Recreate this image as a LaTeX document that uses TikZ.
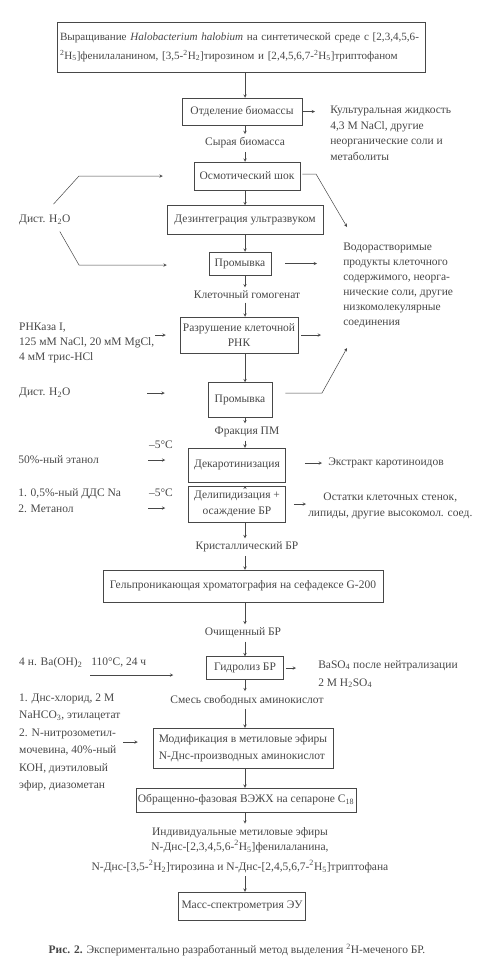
\documentclass[tikz,border=0pt]{standalone}
\usepackage{fontspec}
\setmainfont{Liberation Serif}
\usetikzlibrary{positioning}

\newcommand{\isoH}[1]{\textsuperscript{2}H\textsubscript{#1}}

\begin{document}
\begin{tikzpicture}[%
    >=stealth,
    x=1pt, y=-1pt,
    on grid,
    color=black!72,
    line width=0.5pt,
    every node/.style={font=\fontsize{11.5}{15}\selectfont},
    box/.style 2 args={draw, minimum width=#1, minimum height=#2, inner sep=2pt, align=center},
    note/.style={inner sep=1pt, align=left},
    feed/.style={->, shorten >=#1}
  ]
    \useasboundingbox (0,0) rectangle (480,980);
    \coordinate (spine) at (245,0);

    % main column
    \node[box={368pt}{50pt}, text width=362pt, inner sep=3pt, align=left,
          font=\fontsize{11.1}{19}\selectfont] (grow) at (241,47)
      {Выращивание \textit{Halobacterium halobium} на синтетической среде с~[2,3,4,5,6-\\
       \isoH{5}]фенилаланином, [3,5-\isoH{2}]тирозином и [2,4,5,6,7-\isoH{5}]триптофаном};
    \node[box={120pt}{27pt}] (bio) [below=64.5pt of grow, xshift=1pt] {Отделение биомассы};
    \node (raw) [below=31.5pt of bio, xshift=3pt] {Сырая биомасса};
    \node[box={106pt}{28pt}] (osm) [below=33pt of raw, xshift=2pt] {Осмотический шок};
    \node[box={156pt}{29pt}] (dis) [below=44pt of osm, xshift=-2pt] {Дезинтеграция ультразвуком};
    \node[box={62pt}{23pt}] (wash1) [below=43.5pt of dis, xshift=-5pt] {Промывка};
    \node (hom) [below=31.5pt of wash1, xshift=7pt] {Клеточный гомогенат};
    \node[box={118pt}{36pt}] (rna) [below=40pt of hom, xshift=-8pt] {Разрушение клеточной\\РНК};
    \node[box={64pt}{35pt}] (wash2) [below=65pt of rna, xshift=1pt] {Промывка};
    \node (frac) [below=32pt of wash2, xshift=7pt] {Фракция ПМ};
    \node[box={97pt}{34pt}] (decar) [below=33pt of frac, xshift=-10pt] {Декаротинизация};
    \node[box={97pt}{36pt}, font=\fontsize{11.5}{16}\selectfont] (delip) [below=39pt of decar]
      {Делипидизация +\\осаждение БР};
    \node (cryst) [below=43pt of delip, xshift=10pt] {Кристаллический БР};
    \node[box={280pt}{32pt}] (gel) [below=39pt of cryst, xshift=-4pt]
      {Гельпроникающая хроматография на сефадексе G-200};
    \node (pure) [below=47pt of gel] {Очищенный БР};
    \node[box={77pt}{23pt}] (hydro) [below=35pt of pure, xshift=2pt] {Гидролиз БР};
    \node (mix) [below=32pt of hydro, xshift=2pt] {Смесь свободных аминокислот};
    \node[box={180pt}{40pt}, align=left, font=\fontsize{11.5}{17}\selectfont] (mod) [below=48pt of mix, xshift=-4pt]
      {Модификация в метиловые эфиры\\N-Днс-производных аминокислот};
    \node[box={219pt}{24pt}] (hplc) [below=52pt of mod, xshift=3pt]
      {Обращенно-фазовая ВЭЖХ на сепароне C\textsubscript{18}};
    \node[align=center] (ind) [below=50pt of hplc, xshift=-6pt]
      {Индивидуальные метиловые эфиры\\N-Днс-[2,3,4,5,6-\isoH{5}]фенилаланина,\\[5pt]
       N-Днс-[3,5-\isoH{2}]тирозина и N-Днс-[2,4,5,6,7-\isoH{5}]триптофана};
    \node[box={127pt}{28pt}] (ms) [below=56pt of ind, xshift=2pt] {Масс-спектрометрия ЭУ};
    \node (caption) [below=44pt of ms, xshift=-5pt]
      {\textbf{Рис. 2.} Экспериментально разработанный метод выделения \textsuperscript{2}H-меченого БР.};

    % side notes, right
    \node[note, anchor=west, font=\fontsize{11.5}{15.5}\selectfont] (cult) at (329,133.5)
      {Культуральная жидкость\\4,3 М NaCl, другие\\неорганические соли и\\метаболиты};
    \node[note, anchor=west] (water) at (342,285.5)
      {Водорастворимые\\продукты клеточного\\содержимого, неорга-\\нические соли, другие\\низкомолекулярные\\соединения};
    \node[note, anchor=west] (carot) at (327,463) {Экстракт каротиноидов};
    \node[note, align=center, anchor=west, font=\fontsize{11.5}{16}\selectfont] (rest) at (307,506)
      {Остатки клеточных стенок,\\липиды, другие высокомол. соед.};
    \node[note, anchor=west, font=\fontsize{11.5}{18}\selectfont] (baso) at (317,674)
      {BaSO\textsubscript{4} после нейтрализации\\2 М H\textsubscript{2}SO\textsubscript{4}};

    % side notes, left
    \node[note, anchor=west] (h2o1) at (18,220) {Дист. H\textsubscript{2}O};
    \node[note, anchor=west] (rnase) at (18,343) {РНКаза I,\\125 мМ NaCl, 20 мМ MgCl,\\4 мМ трис-HCl};
    \node[note, anchor=west] (h2o2) at (18,393) {Дист. H\textsubscript{2}O};
    \node[note] (cold1) at (161,445) {–5°C};
    \node[note, anchor=west] (eth) at (17,460) {50\%-ный этанол};
    \node[note] (cold2) at (161,493) {–5°C};
    \node[note, anchor=west, font=\fontsize{11.5}{16}\selectfont] (dds) at (17,501)
      {1. 0,5\%-ный ДДС Na\\2. Метанол};
    \node[note, anchor=west] (baoh) at (18,663) {4 н. Ba(OH)\textsubscript{2}};
    \node[note, anchor=west] (temp) at (90,663) {110°C, 24 ч};
    \node[note, anchor=west, font=\fontsize{11.5}{17.4}\selectfont] (dns) at (18,742.5)
      {1. Днс-хлорид, 2 М\\NaHCO\textsubscript{3}, этилацетат\\2. N-нитрозометил-\\мочевина, 40\%-ный\\КОН, диэтиловый\\эфир, диазометан};

    \coordinate (k1) at (79,176);
    \coordinate (k2) at (79,265);
    \coordinate (k3) at (316,174);
    \coordinate (k4) at (347,227);
    \coordinate (k5) at (322,393);
    \coordinate (k6) at (347,348);
    \coordinate (f2) at (147,393);
    \coordinate (f3) at (148,460);
    \coordinate (f4) at (148,508);
    \coordinate (f5) at (90,675);
    \coordinate (f6) at (123,742);

    % main flow
    \draw[->] (grow.south -| spine) -- (bio.north -| spine);
    \draw[->] (bio.south -| spine) -- (raw.north -| spine);
    \draw[->] (raw.south -| spine) -- (osm.north -| spine);
    \draw[->] (osm.south -| spine) -- (dis.north -| spine);
    \draw[->] (dis.south -| spine) -- (wash1.north -| spine);
    \draw[->] (wash1.south -| spine) -- (hom.north -| spine);
    \draw[->] (hom.south -| spine) -- (rna.north -| spine);
    \draw[->] (rna.south -| spine) -- (wash2.north -| spine);
    \draw[->] (wash2.south -| spine) -- (frac.north -| spine);
    \draw[->] (frac.south -| spine) -- (decar.north -| spine);
    \draw[->] ([yshift=-5pt]decar.south -| spine) -- (delip.north -| spine);
    \draw[->] (delip.south -| spine) -- (cryst.north -| spine);
    \draw[->] (cryst.south -| spine) -- (gel.north -| spine);
    \draw[->] (gel.south -| spine) -- (pure.north -| spine);
    \draw[->] (pure.south -| spine) -- (hydro.north -| spine);
    \draw[->] (hydro.south -| spine) -- (mix.north -| spine);
    \draw[->] (mix.south -| spine) -- (mod.north -| spine);
    \draw[->] (mod.south -| spine) -- (hplc.north -| spine);
    \draw[->] (hplc.south -| spine) -- (ind.north -| spine);
    \draw[->] (ind.south -| spine) -- (ms.north -| spine);

    % outputs
    \draw[feed=14pt] (bio.east) -- (bio.east -| cult.west);
    \draw[->, shorten <=2pt] (osm.east |- k3) -- (k3) -- (k4);
    \draw[feed=25pt, shorten <=14pt] (wash1.east) -- (wash1.east -| water.west);
    \draw[feed=21pt, shorten <=3pt] (rna.east) -- (rna.east -| water.west);
    \draw[->, shorten <=13pt] (wash2.east |- k5) -- (k5) -- (k6);
    \draw[feed=5pt, shorten <=19pt] (decar.east |- carot) -- (carot.west);
    \draw[feed=1pt, shorten <=8pt] (delip.east) -- (delip.east -| rest.west);
    \draw[feed=21pt, shorten <=2pt] (hydro.east) -- (hydro.east -| baso.west);

    % inputs
    \draw[->, shorten <=13pt, shorten >=31pt] (h2o1.north) -- (k1) -- (k1 -| osm.west);
    \draw[->, shorten <=6pt, shorten >=42pt] ([xshift=12pt]h2o1.south) -- (k2) -- (k2 -| wash1.west);
    \draw[feed=14pt] (rnase.east |- rna) -- (rna.west);
    \draw[feed=43pt] (f2) -- (f2 -| wash2.west);
    \draw[feed=23pt] (f3) -- (f3 -| decar.west);
    \draw[feed=23pt] (f4) -- (f4 -| delip.west);
    \draw[feed=33pt] (f5) -- (f5 -| hydro.west);
    \draw[feed=15pt] (f6) -- (f6 -| mod.west);
\end{tikzpicture}
\end{document}
